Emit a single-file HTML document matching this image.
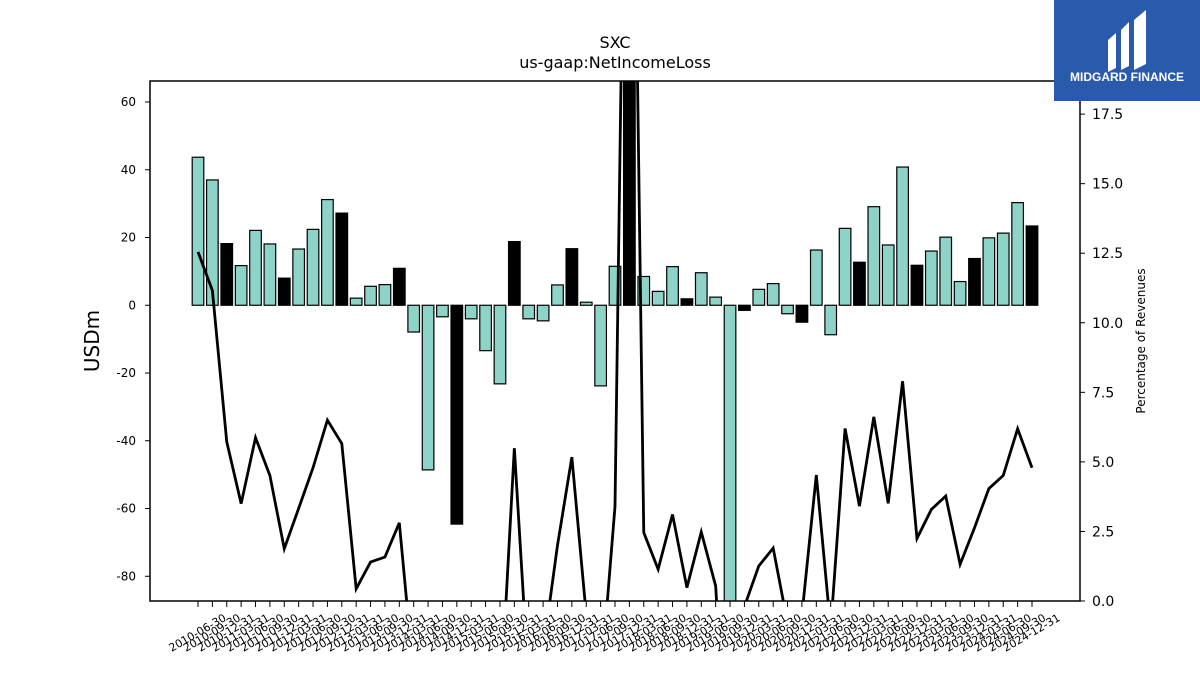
<!DOCTYPE html>
<html><head><meta charset="utf-8">
<style>
html,body{margin:0;background:#fff;width:1200px;height:675px;overflow:hidden;font-family:"Liberation Sans","DejaVu Sans",sans-serif;}
svg{display:block;}
</style></head>
<body>
<svg id="chart" width="1200" height="675" xmlns="http://www.w3.org/2000/svg" font-family="DejaVu Sans, Liberation Sans, sans-serif">
<text x="615" y="48" text-anchor="middle" font-size="16">SXC</text>
<text x="615" y="68" text-anchor="middle" font-size="16">us-gaap:NetIncomeLoss</text>
<text transform="translate(99,341) rotate(-90)" text-anchor="middle" font-size="20">USDm</text>
<text transform="translate(1145,341) rotate(-90)" text-anchor="middle" font-size="12">Percentage of Revenues</text>
<g id="plot"></g>
<g>
<rect x="1054" y="0" width="146" height="101" fill="#2a5aab"/>
<path d="M1108 40 L1116 33 L1116 68 L1108 72 Z M1121 30 L1129 22 L1129 66 L1121 70 Z M1134 20 L1146 10 L1146 64 L1134 70 Z" fill="#fff"/>
<text x="1127" y="81" text-anchor="middle" font-size="12" font-weight="bold" fill="#fff" font-family="Liberation Sans, sans-serif">MIDGARD FINANCE</text>
</g>
</svg>
<script>
const categories = [];
(function(){const q=["03-31","06-30","09-30","12-31"];for(let y=2010;y<=2024;y++)for(let i=0;i<4;i++){if(y===2010&&i===0)continue;categories.push(y+"-"+q[i]);}})();
const netIncome = [43.7,37,18.2,11.7,22.1,18.1,8,16.6,22.4,31.2,27.2,2.1,5.6,6.1,10.9,-7.9,-48.6,-3.4,-64.6,-4.0,-13.4,-23.2,18.8,-4,-4.6,6,16.7,0.9,-23.8,11.5,100,8.5,4.1,11.4,1.9,9.6,2.4,-100,-1.5,4.7,6.4,-2.5,-5,16.3,-8.7,22.7,12.7,29.1,17.8,40.8,11.8,16,20.1,7,13.8,19.9,21.3,30.3,23.4];
const pctRevenue = [12.55,11.16,5.72,3.5,5.87,4.51,1.88,3.33,4.79,6.5,5.66,0.44,1.4,1.58,2.81,-2.7,-4,-4,-4,-4,-4,-4,5.49,-3,-1.8,2.0,5.17,-0.5,-3,3.4,40,2.46,1.14,3.11,0.48,2.48,0.54,-8,-0.2,1.26,1.9,-0.8,-0.5,4.53,-1,6.2,3.41,6.62,3.51,7.9,2.25,3.29,3.77,1.32,2.63,4.04,4.51,6.19,4.79];
const yTicks = [-80,-60,-40,-20,0,20,40,60];
const y2Ticks = [0,2.5,5,7.5,10,12.5,15,17.5];

const L=150,R=1080,T=81,B=601;
const yMin=-87.3,yMax=66.2,y2Min=0,y2Max=18.69;
const x=i=>198+i*(1032-198)/(categories.length-1);
const y=v=>B-(v-yMin)/(yMax-yMin)*(B-T);
const y2=v=>B-(v-y2Min)/(y2Max-y2Min)*(B-T);
const NS="http://www.w3.org/2000/svg";
const g=document.getElementById('plot');
function mk(t,a,p){const e=document.createElementNS(NS,t);for(const k in a)e.setAttribute(k,a[k]);(p||g).appendChild(e);return e;}
const defs=mk('defs',{});const cp=mk('clipPath',{id:'clip'},defs);mk('rect',{x:L,y:T,width:R-L,height:B-T},cp);
const bars=mk('g',{'clip-path':'url(#clip)'});


netIncome.forEach((v,i)=>{
  const y0=y(0),yv=y(v);const dark=(i%4===2);
  const r=mk('rect',{x:x(i)-5.8,y:Math.min(y0,yv),width:11.6,height:Math.abs(yv-y0),fill:dark?'#000':'#8dd3c7',stroke:'#000','stroke-width':1.2},bars);
  
  
});
const ln=mk('polyline',{points:pctRevenue.map((v,i)=>x(i)+','+y2(v)).join(' '),fill:'none',stroke:'#000','stroke-width':2.8,'clip-path':'url(#clip)','stroke-linejoin':'miter'});


const fr=mk('rect',{x:L,y:T,width:R-L,height:B-T,fill:'none',stroke:'#000','stroke-width':1.5});


yTicks.forEach(v=>{
  mk('line',{x1:L-5,x2:L,y1:y(v),y2:y(v),stroke:'#000'});
  const t=mk('text',{x:L-14,y:y(v)+4,'text-anchor':'end','font-size':12});t.textContent=v;
  
  
});
y2Ticks.forEach(v=>{
  mk('line',{x1:R,x2:R+5,y1:y2(v),y2:y2(v),stroke:'#000'});
  const t=mk('text',{x:R+12,y:y2(v)+5,'font-size':14});t.textContent=v.toFixed(1);
  
  
});
categories.forEach((c,i)=>{
  mk('line',{x1:x(i),x2:x(i),y1:B,y2:B+6,stroke:'#000'});
  const t=mk('text',{'text-anchor':'end','font-size':11,transform:`translate(${x(i)+29},${B+19}) rotate(-30)`});t.textContent=c;
  
  
});
</script>
</body></html>
